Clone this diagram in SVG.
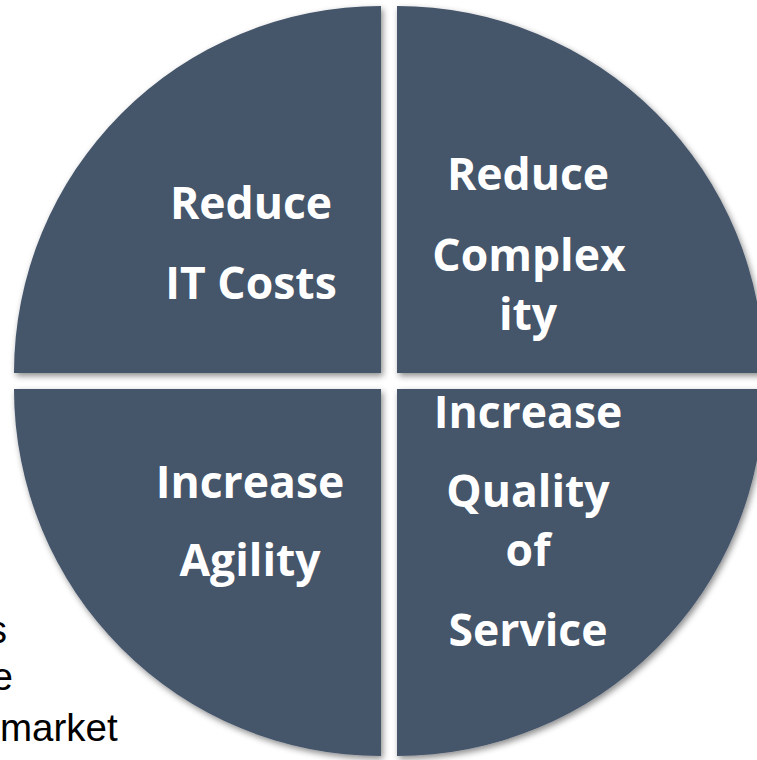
<svg xmlns="http://www.w3.org/2000/svg" width="757" height="760" viewBox="0 0 757 760">
<style>
.q{fill:#44546A;filter:url(#sh)}
.lbl{font-family:"Open Sans","Liberation Sans",sans-serif;font-weight:700;font-size:44.5px;fill:#FFFFFF;text-anchor:middle}
.bg{font-family:"Liberation Sans",Arial,sans-serif;font-size:38.5px;fill:#000000}
</style>
<defs>
<filter id="sh" x="-10%" y="-10%" width="120%" height="120%">
<feDropShadow dx="2" dy="3" stdDeviation="3" flood-color="#000" flood-opacity="0.45"/>
</filter>
</defs>
<rect width="757" height="760" fill="#FFFFFF"/>
<g id="background-text">
<text class="bg" x="7" y="643" text-anchor="end">s</text>
<text class="bg" x="13" y="690" text-anchor="end">e</text>
<text class="bg" x="0" y="741">market</text>
</g>
<g id="q-reduce-it-costs">
<path class="q" d="M381,373 L14,373 A367,367 0 0 1 381,6 Z"/>
<text class="lbl" x="251" y="219">Reduce</text>
<text class="lbl" x="251" y="299">IT Costs</text>
</g>
<g id="q-reduce-complexity">
<path class="q" d="M397,373 L397,6 A367,367 0 0 1 764,373 Z"/>
<text class="lbl" x="528" y="190">Reduce</text>
<text class="lbl" x="529" y="271">Complex</text>
<text class="lbl" x="528" y="330">ity</text>
</g>
<g id="q-increase-agility">
<path class="q" d="M381,389 L381,756 A367,367 0 0 1 14,389 Z"/>
<text class="lbl" x="250" y="498">Increase</text>
<text class="lbl" x="250" y="576">Agility</text>
</g>
<g id="q-increase-quality">
<path class="q" d="M397,389 L764,389 A367,367 0 0 1 397,756 Z"/>
<text class="lbl" x="528" y="428">Increase</text>
<text class="lbl" x="528" y="507">Quality</text>
<text class="lbl" x="528" y="566">of</text>
<text class="lbl" x="528" y="646">Service</text>
</g>
<g id="connectors"/>
</svg>
